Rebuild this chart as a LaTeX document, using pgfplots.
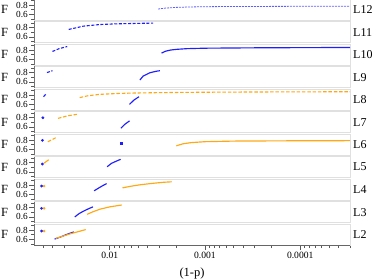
\documentclass[border=0pt]{standalone}
\usepackage{fontspec}
\setmainfont{Liberation Serif}
\usepackage{pgfplots}
\pgfplotsset{compat=1.18}
\definecolor{myblue}{RGB}{30,30,255}
\definecolor{mybluel}{RGB}{95,95,255}
\definecolor{myorange}{RGB}{255,168,20}
\pgfplotsset{
  mypanel/.style={
    anchor=north west,
    x dir=reverse, xmin=3e-5, xmax=0.0625,
    ymin=0.475, ymax=0.93,
    scale only axis, width=316pt, height=21.2pt,
    axis line style={draw=black!12, line width=0.9pt},
    xtick=\empty,
    ytick={0.6,0.8}, yticklabels={0.6,0.8},
    minor ytick={0.5,0.7,0.9},
    ytick pos=left,
    tick align=outside,
    major tick length=5pt, minor tick length=3pt,
    tick style={black!65, line width=0.6pt},
    yticklabel style={font=\fontsize{9.3}{10}\selectfont, inner sep=1pt},
    clip mode=individual,
  },
  sbl/.style={myblue, line width=1.15pt, no marks},
  sor/.style={myorange, line width=1.15pt, no marks},
  sbld/.style={myblue, line width=1.1pt, no marks, dash pattern=on 3pt off 1.6pt},
  sord/.style={myorange, line width=1.1pt, no marks, dash pattern=on 3.5pt off 1.8pt},
  sbmark/.style={myblue, only marks, mark=*, mark size=1.2pt},
  somark/.style={myorange, only marks, mark=*, mark size=1.1pt},
}
\newcommand{\deco}[1]{%
  \draw[black!55, line width=0.8pt] (axis description cs:0,0) -- (axis description cs:0,1);
  \node[anchor=west, inner sep=0pt, font=\fontsize{12.5}{13}\selectfont] at ([xshift=-33pt]axis description cs:0,0.5) {F};
  \node[anchor=west, inner sep=0pt, font=\fontsize{12}{13}\selectfont] at ([xshift=3pt]axis description cs:1,0.5) {#1};
}
\begin{document}
\begin{tikzpicture}
\useasboundingbox (0,0) rectangle (374pt,279pt);
% L12
\begin{semilogxaxis}[mypanel, at={(34pt,280pt)}]
\addplot[mybluel, line width=0.8pt, dash pattern=on 2pt off 1pt] coordinates {(3.1e-3,0.715) (2.6e-3,0.735) (2e-3,0.75) (1.5e-3,0.758) (1e-3,0.765) (5e-4,0.769) (1e-4,0.773) (3e-5,0.775)};
\deco{L12}
\end{semilogxaxis}
% L11
\begin{semilogxaxis}[mypanel, at={(34pt,257.5pt)}]
\addplot[sbld] coordinates {(0.027,0.76) (0.022,0.80) (0.019,0.83) (0.0127,0.865) (0.0085,0.88) (0.005,0.89) (0.0035,0.895)};
\deco{L11}
\end{semilogxaxis}
% L10
\begin{semilogxaxis}[mypanel, at={(34pt,235pt)}]
\addplot[sbld] coordinates {(0.040,0.77) (0.034,0.83) (0.028,0.875)};
\addplot[sbl] coordinates {(2.86e-3,0.735) (2.6e-3,0.775) (2.3e-3,0.80) (2e-3,0.815) (1.55e-3,0.83) (1e-3,0.84) (3e-4,0.848) (1e-4,0.852) (3e-5,0.855)};
\deco{L10}
\end{semilogxaxis}
% L9
\begin{semilogxaxis}[mypanel, at={(34pt,212.5pt)}]
\addplot[sbld] coordinates {(0.0457,0.80) (0.040,0.84)};
\addplot[sbl] coordinates {(4.83e-3,0.64) (4.46e-3,0.725) (3.79e-3,0.796) (3.3e-3,0.825) (2.98e-3,0.84)};
\deco{L9}
\end{semilogxaxis}
% L8
\begin{semilogxaxis}[mypanel, at={(34pt,190pt)}]
\addplot[sbl] coordinates {(0.0496,0.765) (0.0472,0.815)};
\addplot[sbl] coordinates {(6.2e-3,0.60) (5.6e-3,0.69) (4.93e-3,0.765)};
\addplot[sord] coordinates {(0.0207,0.745) (0.017,0.785) (0.0127,0.815) (0.008,0.835) (0.0057,0.843) (0.003,0.852) (1.55e-3,0.858) (5e-4,0.864) (1e-4,0.869) (3e-5,0.871)};
\deco{L8}
\end{semilogxaxis}
% L7
\begin{semilogxaxis}[mypanel, at={(34pt,167.5pt)}]
\addplot[sbmark] coordinates {(0.0504,0.796)};
\addplot[sord] coordinates {(0.035,0.783) (0.028,0.835) (0.0221,0.869)};
\addplot[sbl] coordinates {(7.66e-3,0.57) (7e-3,0.65) (6.2e-3,0.73)};
\deco{L7}
\end{semilogxaxis}
% L6
\begin{semilogxaxis}[mypanel, at={(34pt,145pt)}]
\addplot[sbmark] coordinates {(0.051,0.794)};
\addplot[sord] coordinates {(0.0447,0.763) (0.037,0.849)};
\addplot[myblue, only marks, mark=square*, mark size=0.9pt] coordinates {(7.66e-3,0.74)};
\addplot[sor] coordinates {(2e-3,0.677) (1.7e-3,0.72) (1.4e-3,0.745) (1e-3,0.765) (5e-4,0.778) (1e-4,0.785) (3e-5,0.787)};
\deco{L6}
\end{semilogxaxis}
% L5
\begin{semilogxaxis}[mypanel, at={(34pt,122.5pt)}]
\addplot[sbmark] coordinates {(0.051,0.768)};
\addplot[sor] coordinates {(0.049,0.789) (0.0438,0.86)};
\addplot[sbl] coordinates {(0.01066,0.71) (9.6e-3,0.783) (8.5e-3,0.832) (7.7e-3,0.869)};
\deco{L5}
\end{semilogxaxis}
% L4
\begin{semilogxaxis}[mypanel, at={(34pt,100pt)}]
\addplot[sbmark] coordinates {(0.052,0.778)};
\addplot[somark] coordinates {(0.049,0.778)};
\addplot[sbl] coordinates {(0.0146,0.677) (0.013,0.74) (0.0118,0.79) (0.0108,0.83)};
\addplot[sor] coordinates {(7.35e-3,0.74) (6e-3,0.775) (4.83e-3,0.805) (3.8e-3,0.83) (3.24e-3,0.845) (2.7e-3,0.86) (2.24e-3,0.87)};
\deco{L4}
\end{semilogxaxis}
% L3
\begin{semilogxaxis}[mypanel, at={(34pt,77.5pt)}]
\addplot[sbmark] coordinates {(0.052,0.783)};
\addplot[somark] coordinates {(0.049,0.783)};
\addplot[sbl] coordinates {(0.0233,0.60) (0.021,0.67) (0.019,0.72) (0.0165,0.78) (0.015,0.815)};
\addplot[sor] coordinates {(0.0173,0.655) (0.015,0.71) (0.0127,0.765) (0.01,0.815) (7.5e-3,0.855)};
\deco{L3}
\end{semilogxaxis}
% L2
\begin{semilogxaxis}[mypanel, at={(34pt,55pt)},
  xtick={0.01,0.001,0.0001}, xticklabels={0.01,0.001,0.0001},
  minor xtick={0.05,0.04,0.03,0.02,0.009,0.008,0.007,0.006,0.005,0.004,0.003,0.002,0.0009,0.0008,0.0007,0.0006,0.0005,0.0004,0.0003,0.0002,0.00009,0.00008,0.00007,0.00006,0.00005,0.00004,0.00003},
  xtick pos=bottom,
  xticklabel style={font=\fontsize{9.6}{10}\selectfont, inner sep=1.5pt},
]
\addplot[sbmark] coordinates {(0.052,0.778)};
\addplot[somark] coordinates {(0.049,0.778)};
\addplot[sbl] coordinates {(0.038,0.606) (0.033,0.65) (0.028,0.71) (0.0239,0.76)};
\addplot[sor] coordinates {(0.037,0.62) (0.031,0.67) (0.026,0.72) (0.022,0.76) (0.0179,0.81)};
\deco{L2}
\draw[black!60, line width=0.8pt] (axis description cs:0,0) -- (axis description cs:1,0);
\node[anchor=base, font=\fontsize{12.5}{13}\selectfont] at ([yshift=-31.5pt]axis description cs:0.5,0) {(1-p)};
\end{semilogxaxis}
\end{tikzpicture}
\end{document}
